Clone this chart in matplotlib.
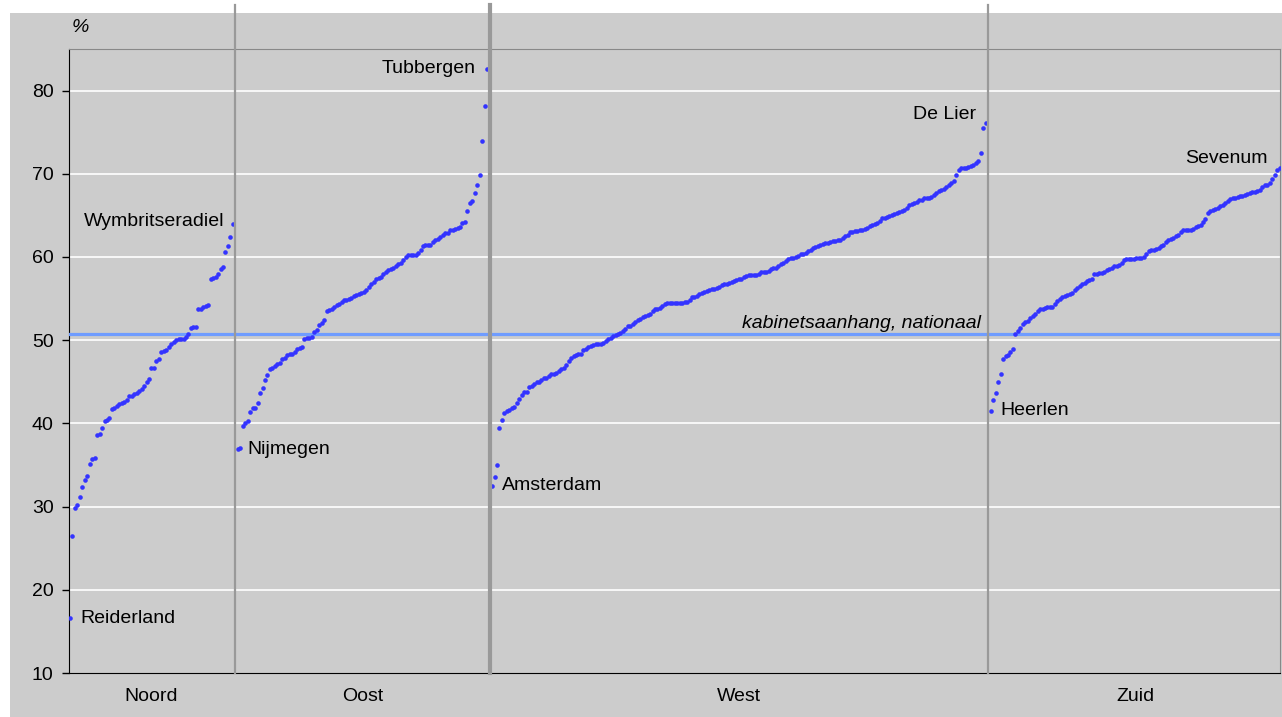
import numpy as np
import matplotlib.pyplot as plt
from matplotlib.patches import Rectangle

plt.rcParams['font.family'] = ['Liberation Sans', 'DejaVu Sans']

# kabinetsaanhang per gemeente (%), per landsdeel oplopend gesorteerd
regions = ['Noord', 'Oost', 'West', 'Zuid']
noord = [16.6, 26.5, 29.8, 30.2, 31.2, 32.3, 33.2, 33.7, 35.1, 35.7, 35.9, 38.6, 38.7, 39.5,
         40.3, 40.4, 40.6, 41.7, 41.9, 42.1, 42.3, 42.5, 42.6, 42.8, 43.3, 43.3, 43.5, 43.7,
         43.9, 44.1, 44.5, 45.0, 45.3, 46.6, 46.6, 47.5, 47.8, 48.6, 48.7, 48.8, 49.2, 49.5,
         49.8, 50.0, 50.1, 50.1, 50.2, 50.4, 50.7, 51.5, 51.6, 51.6, 53.7, 53.8, 54.0, 54.1,
         54.2, 57.4, 57.5, 57.6, 58.0, 58.6, 58.8, 60.6, 61.3, 62.4, 64.0]
oost = [36.9, 37.0, 39.7, 40.0, 40.3, 41.4, 41.8, 41.9, 42.4, 43.6, 44.3, 45.2, 45.8, 46.5,
        46.7, 46.9, 47.1, 47.3, 47.8, 47.9, 48.2, 48.3, 48.4, 48.6, 48.9, 49.1, 49.2, 50.2,
        50.3, 50.3, 50.4, 51.0, 51.2, 51.8, 52.1, 52.4, 53.5, 53.6, 53.7, 54.0, 54.2, 54.4,
        54.6, 54.8, 54.8, 54.9, 55.1, 55.3, 55.4, 55.6, 55.7, 55.8, 56.0, 56.4, 56.8, 57.0,
        57.3, 57.5, 57.6, 58.0, 58.2, 58.4, 58.5, 58.7, 58.9, 59.1, 59.3, 59.6, 60.0, 60.2,
        60.3, 60.3, 60.3, 60.5, 60.8, 61.3, 61.4, 61.5, 61.5, 61.8, 62.0, 62.2, 62.4, 62.7,
        62.9, 62.9, 63.2, 63.3, 63.4, 63.5, 63.6, 64.1, 64.2, 65.5, 66.5, 66.7, 67.7, 68.6,
        69.8, 73.9, 78.1, 82.6]
west = [32.5, 33.5, 35.0, 39.4, 40.4, 41.2, 41.5, 41.6, 41.8, 42.0, 42.4, 42.9, 43.4, 43.8,
        43.8, 44.4, 44.5, 44.7, 45.0, 45.0, 45.2, 45.4, 45.5, 45.7, 45.9, 45.9, 46.1, 46.3,
        46.5, 46.6, 47.0, 47.5, 47.9, 48.1, 48.2, 48.3, 48.4, 48.8, 49.0, 49.2, 49.3, 49.4,
        49.5, 49.5, 49.6, 49.7, 49.9, 50.1, 50.3, 50.5, 50.6, 50.8, 50.9, 51.1, 51.4, 51.7,
        51.7, 51.9, 52.2, 52.4, 52.6, 52.8, 52.9, 53.0, 53.2, 53.5, 53.7, 53.7, 53.9, 54.1,
        54.3, 54.5, 54.5, 54.5, 54.5, 54.5, 54.5, 54.5, 54.6, 54.6, 54.8, 55.2, 55.2, 55.3,
        55.5, 55.7, 55.8, 55.9, 56.0, 56.1, 56.2, 56.3, 56.4, 56.6, 56.7, 56.8, 56.9, 57.0,
        57.1, 57.2,
        57.3, 57.4, 57.6, 57.7, 57.8, 57.8, 57.8, 57.8, 57.9, 58.2, 58.2, 58.2, 58.3, 58.6,
        58.7, 58.7, 58.9, 59.1, 59.3, 59.5, 59.8, 59.9, 59.9, 60.0, 60.1, 60.4, 60.4, 60.5,
        60.7, 60.9, 61.1, 61.2, 61.3, 61.5, 61.6, 61.7, 61.7, 61.8, 61.9, 61.9, 62.0, 62.0,
        62.3, 62.5, 62.7, 63.0, 63.0, 63.1, 63.1, 63.2, 63.3, 63.4, 63.5, 63.7, 63.9, 64.0,
        64.1, 64.3, 64.7, 64.7, 64.8, 64.9, 65.0, 65.2, 65.3, 65.4, 65.5, 65.7, 65.9, 66.2,
        66.4, 66.5, 66.6, 66.8, 66.9, 67.1, 67.1, 67.1, 67.2, 67.4, 67.7, 67.9, 68.0, 68.2,
        68.4, 68.6, 68.9, 69.1, 69.8, 70.4, 70.7, 70.7, 70.7, 70.8, 70.9, 71.1, 71.3, 71.5,
        72.5, 75.5, 76.1]
zuid = [41.5, 42.8, 43.6, 45.0, 45.9, 47.8, 48.1, 48.2, 48.6, 49.0, 50.7, 51.1, 51.5, 52.0,
        52.2, 52.3, 52.7, 52.9, 53.1, 53.5, 53.7, 53.8, 53.9, 54.0, 54.0, 54.0, 54.4, 54.7,
        54.9, 55.2, 55.3, 55.4, 55.5, 55.7, 56.0, 56.3, 56.5, 56.7, 56.9, 57.1, 57.2, 57.4,
        57.9, 58.0, 58.1, 58.1, 58.2, 58.4, 58.6, 58.7, 58.9, 58.9, 59.0, 59.3, 59.6, 59.7,
        59.8, 59.8, 59.8, 59.9, 59.9, 59.9, 60.0, 60.4, 60.7, 60.9, 60.9, 61.0, 61.1, 61.3,
        61.5, 61.8, 62.0, 62.2, 62.3, 62.5, 62.7, 63.0, 63.2, 63.3, 63.3, 63.3, 63.4, 63.6,
        63.7, 63.9, 64.2, 64.6, 65.3, 65.5, 65.6, 65.8, 65.9, 66.1, 66.3, 66.5, 66.7, 67.0,
        67.1, 67.1, 67.2, 67.3, 67.3, 67.4, 67.6, 67.7, 67.8, 67.8, 67.9, 68.1, 68.4, 68.6,
        68.7, 68.9, 69.4, 69.9, 70.4, 70.7]
low_names = ['Reiderland', 'Nijmegen', 'Amsterdam', 'Heerlen']
high_names = ['Wymbritseradiel', 'Tubbergen', 'De Lier', 'Sevenum']
national = 50.7

series = [noord, oost, west, zuid]
high_dy = [2, 0, 9, 9]
high_dx = [-8, -12, -10, -12]
fs = 14

fig = plt.figure(figsize=(12.82, 7.17), dpi=100, facecolor='white')
fig.patches.append(Rectangle((10 / 1282, 0), 1, 1 - 13 / 717, transform=fig.transFigure,
                             facecolor='#cccccc', edgecolor='none', zorder=-10))
ax = fig.add_axes([69 / 1282, 1 - 673 / 717, (1280 - 69) / 1282, (673 - 49) / 717])
ax.set_facecolor('#cccccc')

start = 0
centers = []
dividers = []
for k, vals in enumerate(series):
    x = np.arange(start, start + len(vals))
    ax.plot(x, vals, 'o', ms=3.3, mew=0, color='#3333ff', zorder=4)
    ax.plot([x[0] - 0.5, x[-1] + 0.5], [national, national], color='#6f9cff', lw=2.3, zorder=3)
    centers.append((x[0] + x[-1]) / 2)
    ax.annotate(low_names[k], (x[0], vals[0]), xytext=(10, 0), textcoords='offset pixels',
                ha='left', va='center', fontsize=fs)
    ax.annotate(high_names[k], (x[-1], vals[-1]), xytext=(high_dx[k], high_dy[k]),
                textcoords='offset pixels', ha='right', va='center', fontsize=fs)
    if k < len(series) - 1:
        dividers.append(x[-1] + 1)
    last = x[-1]
    start = x[-1] + 2

ax.set_xlim(-0.4, last + 0.2)
ax.set_ylim(10, 85)
ax.set_yticks(range(10, 90, 10))
for v in range(20, 90, 10):
    ax.axhline(v, color='white', lw=1.2, zorder=1)

for k, xd in enumerate(dividers):
    ax.plot([xd, xd], [10, 90.3], color='#999999', lw=3 if k == 1 else 1.6,
            clip_on=False, zorder=5)

ax.text(dividers[-1] - 3, national + 0.3, 'kabinetsaanhang, nationaal', ha='right',
        va='bottom', style='italic', fontsize=fs)

ax.set_xticks(centers)
ax.set_xticklabels(regions, fontsize=fs)
ax.tick_params(axis='x', length=0, pad=11)
ax.tick_params(axis='y', length=5, width=1, pad=6, labelsize=fs, direction='out')
for s in ['top', 'right']:
    ax.spines[s].set_color('#888888')
for s in ['left', 'bottom']:
    ax.spines[s].set_color('black')

fig.text(72 / 1282, 1 - 28 / 717, '%', style='italic', fontsize=fs, va='center')

fig.savefig('out.png', dpi=100, facecolor=fig.get_facecolor())
